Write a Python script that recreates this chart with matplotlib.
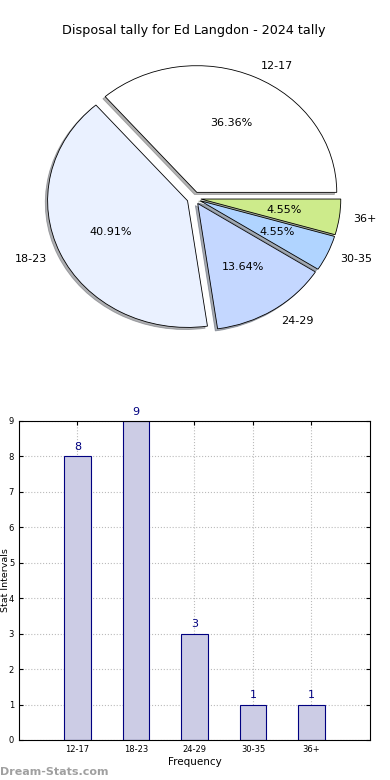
import matplotlib
matplotlib.use('Agg')
import matplotlib.pyplot as plt

labels = ['12-17', '18-23', '24-29', '30-35', '36+']
counts = [8, 9, 3, 1, 1]
pie_colors = ['#FFFFFF', '#EAF1FF', '#C4D7FF', '#B0D4FF', '#CDEB8B']

fig = plt.figure(figsize=(3.9, 7.8), dpi=100)

# pie chart
ax1 = fig.add_axes([0.0487, 0.543, 0.897, 0.406])
wedges, texts, autotexts = ax1.pie(counts, labels=labels, colors=pie_colors,
                                   explode=[0.05] * len(counts),
                                   shadow={'ox': -0.012, 'oy': -0.012, 'shade': 0.6},
                                   autopct='%1.2f%%', startangle=0,
                                   wedgeprops={'edgecolor': 'black', 'linewidth': 0.6},
                                   textprops={'fontsize': 8})
ax1.set_aspect('auto')
ax1.set_xlim(-1.25, 1.25)
ax1.set_ylim(-1.25, 1.25)
ax1.set_title('Disposal tally for Ed Langdon - 2024 tally', fontsize=9.2, pad=4)

# bar chart
ax2 = fig.add_axes([0.0487, 0.0513, 0.9, 0.409])
x = list(range(len(labels)))
ax2.bar(x, counts, width=0.45, color='#CCCCE5', edgecolor='navy', linewidth=0.8, zorder=2)
for xi, c in zip(x, counts):
    ax2.text(xi, c + 0.12, str(c), ha='center', va='bottom', color='navy', fontsize=8)
ax2.set_xlim(-1, 5)
ax2.set_ylim(0, 9)
ax2.set_xticks(x)
ax2.set_xticklabels(labels)
ax2.set_yticks(range(10))
ax2.tick_params(labelsize=6, direction='in', right=True, top=True, length=3)
ax2.grid(True, linestyle=':', color='#BBBBBB', linewidth=0.8, zorder=0)
ax2.set_axisbelow(True)
ax2.set_xlabel('Frequency', fontsize=7.5, labelpad=2)
ax2.set_ylabel('Stat Intervals', fontsize=6.8)
ax2.yaxis.set_label_coords(-0.026, 0.5)

fig.text(0.0, 0.006, 'Dream-Stats.com', color='#A0A0A0', fontsize=8, fontweight='bold')

plt.savefig('out.png', dpi=100)
